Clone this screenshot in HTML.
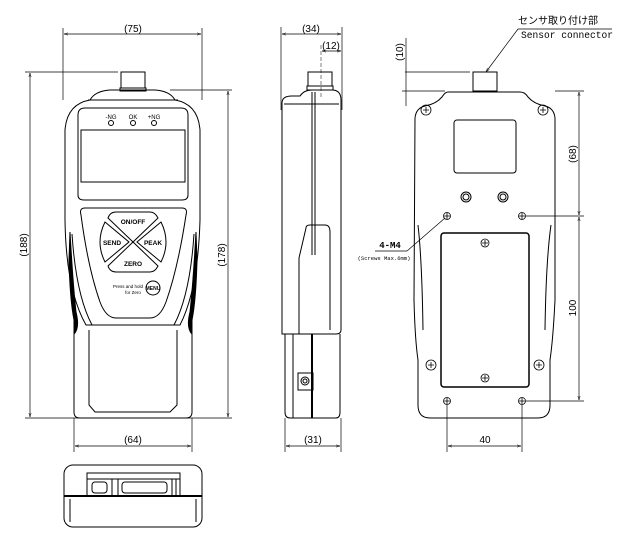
<!DOCTYPE html>
<html><head><meta charset="utf-8"><style>html,body{margin:0;padding:0;background:#fff}svg{display:block}</style></head>
<body>
<svg width="640" height="536" viewBox="0 0 640 536" xmlns="http://www.w3.org/2000/svg" font-family="Liberation Sans, sans-serif" fill="none" stroke="#000" stroke-width="1">
<defs>
<marker id="a" viewBox="0 0 10 10" refX="10" refY="5" markerWidth="6" markerHeight="6" orient="auto-start-reverse"><path d="M0,2 L10,5 L0,8" stroke="#000" fill="none"/></marker>
</defs>

<!-- ===== FRONT VIEW ===== -->
<line x1="63" y1="28" x2="63" y2="100" stroke-width="0.7"/>
<line x1="202" y1="28" x2="202" y2="100" stroke-width="0.7"/>
<line x1="64" y1="34" x2="201" y2="34" marker-start="url(#a)" marker-end="url(#a)" stroke-width="0.7"/>
<text x="133" y="32" font-size="10" fill="#000" stroke="none" text-anchor="middle">(75)</text>
<line x1="25" y1="72" x2="118" y2="72" stroke-width="0.7"/>
<line x1="30" y1="73" x2="30" y2="417" marker-start="url(#a)" marker-end="url(#a)" stroke-width="0.7"/>
<text transform="translate(27,245) rotate(-90)" font-size="10" fill="#000" stroke="none" text-anchor="middle">(188)</text>
<line x1="170" y1="90" x2="232" y2="90" stroke-width="0.7"/>
<line x1="228" y1="91" x2="228" y2="417" marker-start="url(#a)" marker-end="url(#a)" stroke-width="0.7"/>
<text transform="translate(225,255) rotate(-90)" font-size="10" fill="#000" stroke="none" text-anchor="middle">(178)</text>
<line x1="25" y1="418" x2="232" y2="418" stroke-width="0.7"/>
<line x1="74" y1="418" x2="74" y2="452" stroke-width="0.7"/>
<line x1="192" y1="418" x2="192" y2="452" stroke-width="0.7"/>
<line x1="75" y1="446" x2="191" y2="446" marker-start="url(#a)" marker-end="url(#a)" stroke-width="0.7"/>
<text x="133" y="443" font-size="10" fill="#000" stroke="none" text-anchor="middle">(64)</text>
<rect x="121" y="72" width="24" height="16"/>
<rect x="120" y="88" width="26" height="3"/>
<path d="M90,100 Q95,91 110,90 L155,90 Q170,91 175,100 Q198,104 200,130 L200,220 Q198,290 180,325 L86,325 Q66,290 65,220 L65,130 Q67,104 90,100 Z"/>
<path d="M88,100 L178,100"/>
<!-- side grips -->
<path d="M70,232 Q73,285 76,312 Q80,328 74,334 L74,320 Q70,300 69,260 Z" fill="#000" stroke-width="1"/>
<path d="M196,232 Q193,285 190,312 Q186,328 192,334 L192,320 Q196,300 197,260 Z" fill="#000" stroke-width="1"/>
<path d="M72,234 Q76,295 92,325"/><path d="M194,234 Q190,295 174,325"/>
<path d="M74,320 L74,412 Q74,418 80,418 L186,418 Q192,418 192,412 L192,320"/>
<path d="M89,330 L89,405 L95,412 L170,412 L177,405 L177,330"/>
<path d="M78,115 Q78,108 85,108 L181,108 Q188,108 188,115 L188,195 Q188,200 182,200 L84,200 Q78,200 78,195 Z"/>
<rect x="81" y="130" width="104" height="52"/>
<text x="111" y="119" font-size="6" fill="#000" stroke="none" text-anchor="middle">-NG</text>
<text x="133" y="119" font-size="6" fill="#000" stroke="none" text-anchor="middle">OK</text>
<text x="154" y="119" font-size="6" fill="#000" stroke="none" text-anchor="middle">+NG</text>
<circle cx="111" cy="123" r="2.5"/><circle cx="133" cy="123" r="2.5"/><circle cx="154" cy="123" r="2.5"/>
<path d="M85,208 L182,208 Q188,208 186,215 Q178,268 166,302 Q160,318 150,318 L116,318 Q106,318 100,302 Q88,268 81,215 Q79,208 85,208 Z"/>
<path d="M108,218 L133,242 L158,218 Q155,212 150,212 L116,212 Q110,212 108,218 Z"/>
<path d="M108,266 L133,242 L158,266 Q155,272 150,272 L116,272 Q110,272 108,266 Z"/>
<path d="M105,222 L129,242 L105,262 Q100,252 100,242 Q100,232 105,222 Z"/>
<path d="M161,222 L137,242 L161,262 Q166,252 166,242 Q166,232 161,222 Z"/>
<text x="133" y="224" font-size="6.5" font-weight="bold" fill="#000" stroke="none" text-anchor="middle">ON/OFF</text>
<text x="112" y="245" font-size="6.5" font-weight="bold" fill="#000" stroke="none" text-anchor="middle">SEND</text>
<text x="153" y="245" font-size="6.5" font-weight="bold" fill="#000" stroke="none" text-anchor="middle">PEAK</text>
<text x="133" y="266" font-size="6.5" font-weight="bold" fill="#000" stroke="none" text-anchor="middle">ZERO</text>
<circle cx="153" cy="288" r="7"/>
<text x="153" y="290" font-size="5" font-weight="bold" fill="#000" stroke="none" text-anchor="middle">MENU</text>
<text x="128" y="288" font-size="4.5" fill="#000" stroke="none" text-anchor="middle">Press and hold</text>
<text x="133" y="294" font-size="4.5" fill="#000" stroke="none" text-anchor="middle">for Zero</text>

<!-- ===== BOTTOM VIEW ===== -->
<rect x="64" y="465" width="138" height="62" rx="9"/>
<line x1="64" y1="496" x2="202" y2="496" stroke-width="2"/>
<line x1="70" y1="499" x2="70" y2="522"/><line x1="196" y1="499" x2="196" y2="522"/>
<rect x="87" y="473" width="93" height="23"/>
<line x1="87" y1="479" x2="180" y2="479"/>
<rect x="92" y="482" width="15" height="11" rx="3"/>
<rect x="122" y="482" width="45" height="11" rx="3"/>
<line x1="112" y1="479" x2="112" y2="496"/><line x1="118" y1="479" x2="118" y2="496"/>
<line x1="172" y1="479" x2="172" y2="496"/><line x1="176" y1="479" x2="176" y2="496"/>

<!-- ===== SIDE VIEW ===== -->
<line x1="281" y1="27" x2="281" y2="110" stroke-width="0.7"/>
<line x1="342" y1="27" x2="342" y2="110" stroke-width="0.7"/>
<line x1="282" y1="34" x2="341" y2="34" marker-start="url(#a)" marker-end="url(#a)" stroke-width="0.7"/>
<text x="311" y="32" font-size="10" fill="#000" stroke="none" text-anchor="middle">(34)</text>
<line x1="321" y1="45" x2="321" y2="98" stroke-width="0.5" stroke-dasharray="4,2"/>
<line x1="322" y1="51" x2="341" y2="51" marker-start="url(#a)" marker-end="url(#a)" stroke-width="0.7"/>
<text x="331" y="49" font-size="10" fill="#000" stroke="none" text-anchor="middle">(12)</text>
<rect x="308" y="72" width="24" height="14"/>
<rect x="307" y="86" width="26" height="4"/>
<path d="M282,103 Q282,96 292,96 L300,96 Q304,90 312,90 L332,90 Q341,90 341,100 L341,330 Q341,334 336,334 L282,334 Z"/>
<line x1="284" y1="104" x2="339" y2="104"/>
<line x1="312" y1="92" x2="312" y2="255"/><line x1="315" y1="92" x2="315" y2="255"/>
<path d="M306,228 Q306,225 310,225 L325,225 Q330,225 330,232 L330,330" />
<path d="M306,228 L299,258 L299,334"/>
<path d="M285,334 L285,412 Q285,418 290,418 L336,418 Q340,418 340,412 L340,334"/>
<line x1="293" y1="334" x2="293" y2="418"/><line x1="312" y1="334" x2="312" y2="418" stroke-width="2"/>
<rect x="298" y="373" width="15" height="17"/>
<circle cx="305" cy="381" r="4"/><circle cx="305" cy="381" r="2"/>
<line x1="285" y1="418" x2="285" y2="452" stroke-width="0.7"/>
<line x1="341" y1="418" x2="341" y2="452" stroke-width="0.7"/>
<line x1="286" y1="446" x2="340" y2="446" marker-start="url(#a)" marker-end="url(#a)" stroke-width="0.7"/>
<text x="313" y="443" font-size="10" fill="#000" stroke="none" text-anchor="middle">(31)</text>

<!-- ===== BACK VIEW ===== -->
<text x="558" y="24" font-size="10" fill="#000" stroke="none" font-family="Liberation Mono, Noto Sans CJK JP, monospace" text-anchor="middle">センサ取り付け部</text>
<line x1="518" y1="29" x2="612" y2="29" stroke-width="0.7"/>
<text x="567" y="38" font-size="10" fill="#000" stroke="none" font-family="Liberation Mono, monospace" text-anchor="middle" textLength="92" lengthAdjust="spacingAndGlyphs">Sensor connector</text>
<line x1="518" y1="29" x2="486" y2="72" marker-end="url(#a)" stroke-width="0.7"/>
<line x1="406" y1="38" x2="406" y2="106" stroke-width="0.7"/>
<line x1="405" y1="72" x2="470" y2="72" stroke-width="0.7"/>
<line x1="402" y1="91" x2="445" y2="91" stroke-width="0.7"/>
<text transform="translate(403,52) rotate(-90)" font-size="10" fill="#000" stroke="none" text-anchor="middle">(10)</text>
<rect x="473" y="72" width="24" height="19"/>
<path d="M448,92 L520,92 Q525,92 528,97 Q534,104 545,106 Q554,108 555,118 L555,300 Q553,340 550,360 L550,405 Q550,418 538,418 L430,418 Q418,418 418,405 L418,360 Q415,340 414,300 L415,118 Q416,108 425,106 Q436,104 442,97 Q445,92 448,92 Z"/>
<path d="M418,225 Q422,260 423,330" /><path d="M551,225 Q546,260 545,330"/>
<rect x="454" y="120" width="62" height="53" rx="3"/>
<circle cx="466" cy="197" r="5"/><circle cx="466" cy="197" r="3"/>
<circle cx="503" cy="197" r="5"/><circle cx="503" cy="197" r="3"/>
<rect x="441" y="233" width="88" height="154" rx="3" stroke-width="1.5"/>
<g stroke-width="0.8">
<circle cx="426" cy="110" r="5"/><path d="M423,110 h6 M426,107 v6"/>
<circle cx="543" cy="110" r="5"/><path d="M540,110 h6 M543,107 v6"/>
<circle cx="431" cy="365" r="5"/><path d="M428,365 h6 M431,362 v6"/>
<circle cx="539" cy="365" r="5"/><path d="M536,365 h6 M539,362 v6"/>
<circle cx="485" cy="243" r="4"/><path d="M482,243 h6 M485,240 v6"/>
<circle cx="485" cy="378" r="4"/><path d="M482,378 h6 M485,375 v6"/>
<circle cx="447" cy="216" r="3.5"/><circle cx="522" cy="216" r="3.5"/>
<circle cx="447" cy="401" r="3.5"/><circle cx="522" cy="401" r="3.5"/>
<path d="M444,216 h6 M447,213 v6 M519,216 h6 M522,213 v6 M444,401 h6 M447,398 v6 M519,401 h6 M522,398 v6"/>
</g>
<line x1="526" y1="216" x2="584" y2="216" stroke-width="0.7"/>
<line x1="526" y1="401" x2="584" y2="401" stroke-width="0.7"/>
<line x1="555" y1="91" x2="584" y2="91" stroke-width="0.7"/>
<line x1="579" y1="92" x2="579" y2="215" marker-start="url(#a)" marker-end="url(#a)" stroke-width="0.7"/>
<text transform="translate(576,154) rotate(-90)" font-size="10" fill="#000" stroke="none" text-anchor="middle">(68)</text>
<line x1="579" y1="217" x2="579" y2="400" marker-start="url(#a)" marker-end="url(#a)" stroke-width="0.7"/>
<text transform="translate(576,308) rotate(-90)" font-size="10" fill="#000" stroke="none" text-anchor="middle">100</text>
<line x1="447" y1="405" x2="447" y2="452" stroke-width="0.7"/>
<line x1="522" y1="405" x2="522" y2="452" stroke-width="0.7"/>
<line x1="448" y1="446" x2="521" y2="446" marker-start="url(#a)" marker-end="url(#a)" stroke-width="0.7"/>
<text x="485" y="443" font-size="10" fill="#000" stroke="none" text-anchor="middle">40</text>
<text x="390" y="248" font-size="9" font-weight="bold" fill="#000" stroke="none" font-family="Liberation Mono, monospace" text-anchor="middle">4-M4</text>
<line x1="375" y1="251" x2="407" y2="251" stroke-width="0.7"/>
<line x1="407" y1="251" x2="445" y2="218" stroke-width="0.7"/>
<text x="384" y="260" font-size="5.5" fill="#000" stroke="none" font-family="Liberation Mono, monospace" text-anchor="middle">(Screws Max.6mm)</text>
</svg>
</body></html>
